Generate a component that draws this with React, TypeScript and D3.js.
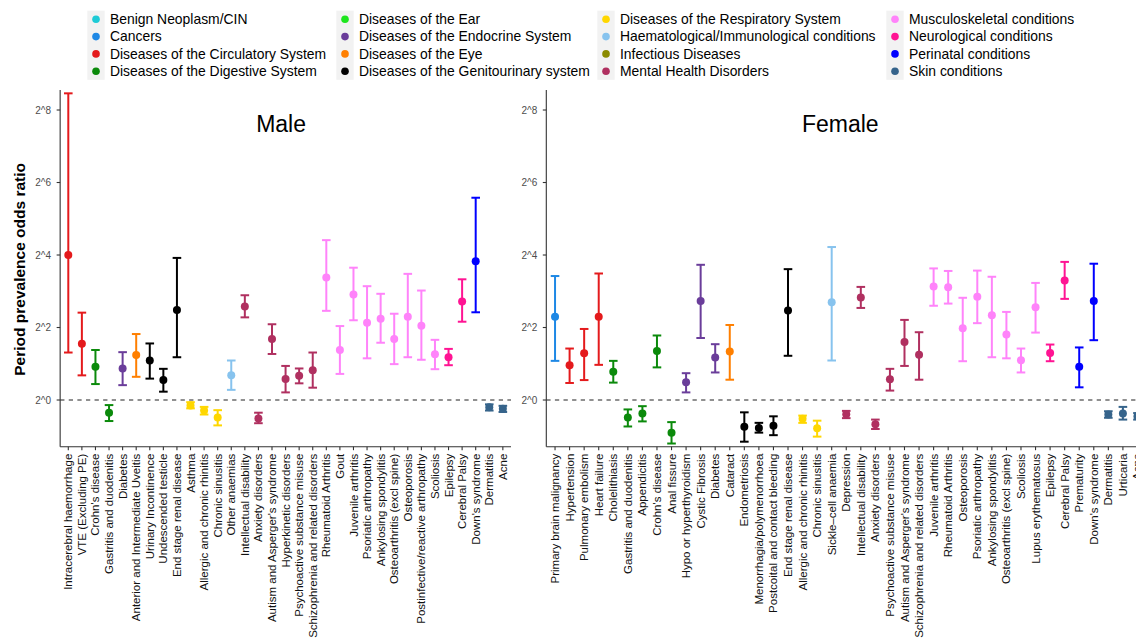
import * as d3 from 'd3';

const FONT = "'Liberation Sans', Arial, Helvetica, sans-serif";

// legend groups (column-major, 4 x 4) and their colours
const legendGroups = [
  'Benign Neoplasm/CIN',
  'Cancers',
  'Diseases of the Circulatory System',
  'Diseases of the Digestive System',
  'Diseases of the Ear',
  'Diseases of the Endocrine System',
  'Diseases of the Eye',
  'Diseases of the Genitourinary system',
  'Diseases of the Respiratory System',
  'Haematological/Immunological conditions',
  'Infectious Diseases',
  'Mental Health Disorders',
  'Musculoskeletal conditions',
  'Neurological conditions',
  'Perinatal conditions',
  'Skin conditions',
];
const groupColors = [
  '#1ecbd6', '#1e88e5', '#e41a1c', '#0b8a0b',
  '#1ee61e', '#6a3d9a', '#ff7f00', '#000000',
  '#ffd700', '#87c3ee', '#8b8b00', '#b03060',
  '#ff83fa', '#ff1493', '#0000ff', '#36648b',
];

// Male panel (values are log2 of the odds ratio)
const maleCategories = [
  'Intracerebral haemorrhage', 'VTE (Excluding PE)', "Crohn's disease", 'Gastritis and duodenitis',
  'Diabetes', 'Anterior and Intermediate Uveitis', 'Urinary Incontinence', 'Undescended testicle',
  'End stage renal disease', 'Asthma', 'Allergic and chronic rhinitis', 'Chronic sinusitis',
  'Other anaemias', 'Intellectual disability', 'Anxiety disorders', "Autism and Asperger's syndrome",
  'Hyperkinetic disorders', 'Psychoactive substance misuse', 'Schizophrenia and related disorders',
  'Rheumatoid Arthritis', 'Gout', 'Juvenile arthritis', 'Psoriatic arthropathy', 'Ankylosing spondylitis',
  'Osteoarthritis (excl spine)', 'Osteoporosis', 'Postinfective/reactive arthropathy', 'Scoliosis',
  'Epilepsy', 'Cerebral Palsy', "Down's syndrome", 'Dermatitis', 'Acne',
];
const maleGroups = [2, 2, 3, 3, 5, 6, 7, 7, 7, 8, 8, 8, 9, 11, 11, 11, 11, 11, 11,
  12, 12, 12, 12, 12, 12, 12, 12, 12, 13, 13, 14, 15, 15];
const maleEst = [4.0, 1.55, 0.92, -0.35, 0.87, 1.24, 1.09, 0.55, 2.48, -0.15, -0.29, -0.48,
  0.68, 2.58, -0.51, 1.68, 0.58, 0.67, 0.82, 3.38, 1.38, 2.91, 2.13, 2.24, 1.68, 2.30, 2.05,
  1.26, 1.18, 2.72, 3.83, -0.20, -0.24];
const maleLower = [1.31, 0.68, 0.44, -0.58, 0.41, 0.64, 0.59, 0.23, 1.18, -0.23, -0.40, -0.70,
  0.28, 2.28, -0.64, 1.27, 0.21, 0.46, 0.34, 2.46, 0.72, 2.20, 1.15, 1.58, 0.99, 1.18, 1.11,
  0.85, 0.96, 2.16, 2.42, -0.29, -0.33];
const maleUpper = [8.46, 2.41, 1.38, -0.14, 1.32, 1.82, 1.56, 0.86, 3.92, -0.06, -0.19, -0.28,
  1.09, 2.89, -0.35, 2.09, 0.94, 0.87, 1.31, 4.41, 2.04, 3.65, 3.14, 2.93, 2.38, 3.48, 3.02,
  1.66, 1.41, 3.33, 5.58, -0.12, -0.16];

// Female panel (values are log2 of the odds ratio)
const femaleCategories = [
  'Primary brain malignancy', 'Hypertension', 'Pulmonary embolism', 'Heart failure', 'Cholelithiasis',
  'Gastritis and duodenitis', 'Appendicitis', "Crohn's disease", 'Anal fissure', 'Hypo or hyperthyroidism',
  'Cystic Fibrosis', 'Diabetes', 'Cataract', 'Endometriosis', 'Menorrhagia/polymenorrhoea',
  'Postcoital and contact bleeding', 'End stage renal disease', 'Allergic and chronic rhinitis',
  'Chronic sinusitis', 'Sickle\u2013cell anaemia', 'Depression', 'Intellectual disability', 'Anxiety disorders',
  'Psychoactive substance misuse', "Autism and Asperger's syndrome", 'Schizophrenia and related disorders',
  'Juvenile arthritis', 'Rheumatoid Arthritis', 'Osteoporosis', 'Psoriatic arthropathy',
  'Ankylosing spondylitis', 'Osteoarthritis (excl spine)', 'Scoliosis', 'Lupus erythematosus',
  'Epilepsy', 'Cerebral Palsy', 'Prematurity', "Down's syndrome", 'Dermatitis', 'Urticaria', 'Acne',
];
const femaleGroups = [1, 2, 2, 2, 3, 3, 3, 3, 3, 5, 5, 5, 6, 7, 7, 7, 7, 8, 8, 9,
  11, 11, 11, 11, 11, 11, 12, 12, 12, 12, 12, 12, 12, 12, 13, 13, 14, 14, 15, 15, 15];
const femaleEst = [2.30, 0.96, 1.29, 2.30, 0.78, -0.48, -0.37, 1.35, -0.90, 0.49, 2.73, 1.17,
  1.34, -0.74, -0.77, -0.71, 2.47, -0.52, -0.78, 2.70, -0.39, 2.83, -0.67, 0.57, 1.60, 1.25,
  3.13, 3.11, 1.98, 2.85, 2.34, 1.81, 1.10, 2.56, 1.30, 3.30, 0.92, 2.73, -0.40, -0.37, -0.45];
const femaleLower = [1.08, 0.47, 0.55, 0.97, 0.48, -0.73, -0.59, 0.90, -1.20, 0.21, 1.71, 0.76,
  0.56, -1.15, -0.90, -0.97, 1.22, -0.63, -1.01, 1.09, -0.50, 2.54, -0.80, 0.26, 0.94, 0.56,
  2.60, 2.66, 1.07, 2.12, 1.18, 1.15, 0.76, 1.86, 1.07, 2.79, 0.35, 1.65, -0.49, -0.54, -0.54];
const femaleUpper = [3.42, 1.42, 1.96, 3.49, 1.08, -0.26, -0.17, 1.78, -0.61, 0.74, 3.73, 1.54,
  2.07, -0.34, -0.63, -0.45, 3.61, -0.43, -0.57, 4.22, -0.30, 3.12, -0.54, 0.86, 2.21, 1.87,
  3.63, 3.56, 2.82, 3.57, 3.40, 2.43, 1.42, 3.23, 1.53, 3.81, 1.45, 3.76, -0.31, -0.19, -0.36];

const yTicks = [0, 2, 4, 6, 8];

const W = 1136;
const H = 641;
const TOP = 90;
const BOTTOM = 446.7;

const y = d3.scaleLinear().domain([-1.288, 8.552]).range([BOTTOM, TOP]);

type PanelProps = {
  title: string;
  cats: string[];
  groups: number[];
  est: number[];
  lo: number[];
  hi: number[];
  left: number;
  right: number;
};

function Panel({ title, cats, groups, est, lo, hi, left, right }: PanelProps) {
  const x = d3.scalePoint<string>().domain(cats).range([left, right]).padding(0.6);
  const cap = 4.3;
  return (
    <g>
      {/* reference line at OR = 1 */}
      <line x1={left} x2={right} y1={y(0)} y2={y(0)} stroke="#222" strokeWidth={1.1} strokeDasharray="4.3,4.3" />

      {cats.map((c, i) => {
        const cx = x(c)!;
        const col = groupColors[groups[i]];
        return (
          <g key={c}>
            <line x1={cx} x2={cx} y1={y(lo[i])} y2={y(hi[i])} stroke={col} strokeWidth={2} />
            <line x1={cx - cap} x2={cx + cap} y1={y(lo[i])} y2={y(lo[i])} stroke={col} strokeWidth={2} />
            <line x1={cx - cap} x2={cx + cap} y1={y(hi[i])} y2={y(hi[i])} stroke={col} strokeWidth={2} />
            <circle cx={cx} cy={y(est[i])} r={4} fill={col} />
          </g>
        );
      })}

      {/* axes */}
      <line x1={left} x2={left} y1={TOP} y2={BOTTOM} stroke="#333" strokeWidth={1.1} />
      <line x1={left} x2={right} y1={BOTTOM} y2={BOTTOM} stroke="#333" strokeWidth={1.1} />
      {yTicks.map((t) => (
        <g key={t}>
          <line x1={left - 3.5} x2={left} y1={y(t)} y2={y(t)} stroke="#333" strokeWidth={1.1} />
          <text x={left - 9} y={y(t)} dy="0.35em" textAnchor="end" fontSize={10} fill="#4d4d4d">
            {`2^${t}`}
          </text>
        </g>
      ))}
      {cats.map((c) => (
        <g key={c} transform={`translate(${x(c)},${BOTTOM})`}>
          <line y1={0} y2={3.5} stroke="#333" strokeWidth={1.1} />
          <text transform="translate(0,7) rotate(-90)" dy="0.35em" textAnchor="end" fontSize={11.5} fill="#111">
            {c}
          </text>
        </g>
      ))}

      <text x={left + 0.49 * (right - left)} y={131.5} textAnchor="middle" fontSize={23} fill="#000">
        {title}
      </text>
    </g>
  );
}

function Legend() {
  const colX = [96, 345, 606, 895];
  const rowY = [19.3, 36.6, 53.9, 71.2];
  const key = 17.3;
  return (
    <g>
      {colX.map((cx) => (
        <rect key={cx} x={cx - key / 2} y={rowY[0] - key / 2} width={key} height={key * 4} fill="#f2f2f2" />
      ))}
      {legendGroups.map((g, i) => {
        const cx = colX[Math.floor(i / 4)];
        const cy = rowY[i % 4];
        return (
          <g key={g}>
            <circle cx={cx} cy={cy} r={3.8} fill={groupColors[i]} />
            <text x={cx + 14} y={cy} dy="0.35em" fontSize={13.9} fill="#000">
              {g}
            </text>
          </g>
        );
      })}
    </g>
  );
}

export default function App() {
  return (
    <svg
      width={W}
      height={H}
      style={{ position: 'absolute', left: 0, top: 0, background: '#fff', fontFamily: FONT }}
    >
      <rect width={W} height={H} fill="#fff" />
      <Legend />
      <text
        transform={`translate(24.5,${(TOP + BOTTOM) / 2 + 1}) rotate(-90)`}
        textAnchor="middle"
        fontSize={15.5}
        fontWeight="bold"
        fill="#000"
      >
        Period prevalence odds ratio
      </text>
      <Panel
        title="Male"
        cats={maleCategories}
        groups={maleGroups}
        est={maleEst}
        lo={maleLower}
        hi={maleUpper}
        left={60.15}
        right={511}
      />
      <Panel
        title="Female"
        cats={femaleCategories}
        groups={femaleGroups}
        est={femaleEst}
        lo={femaleLower}
        hi={femaleUpper}
        left={546.3}
        right={1146.2}
      />
    </svg>
  );
}
